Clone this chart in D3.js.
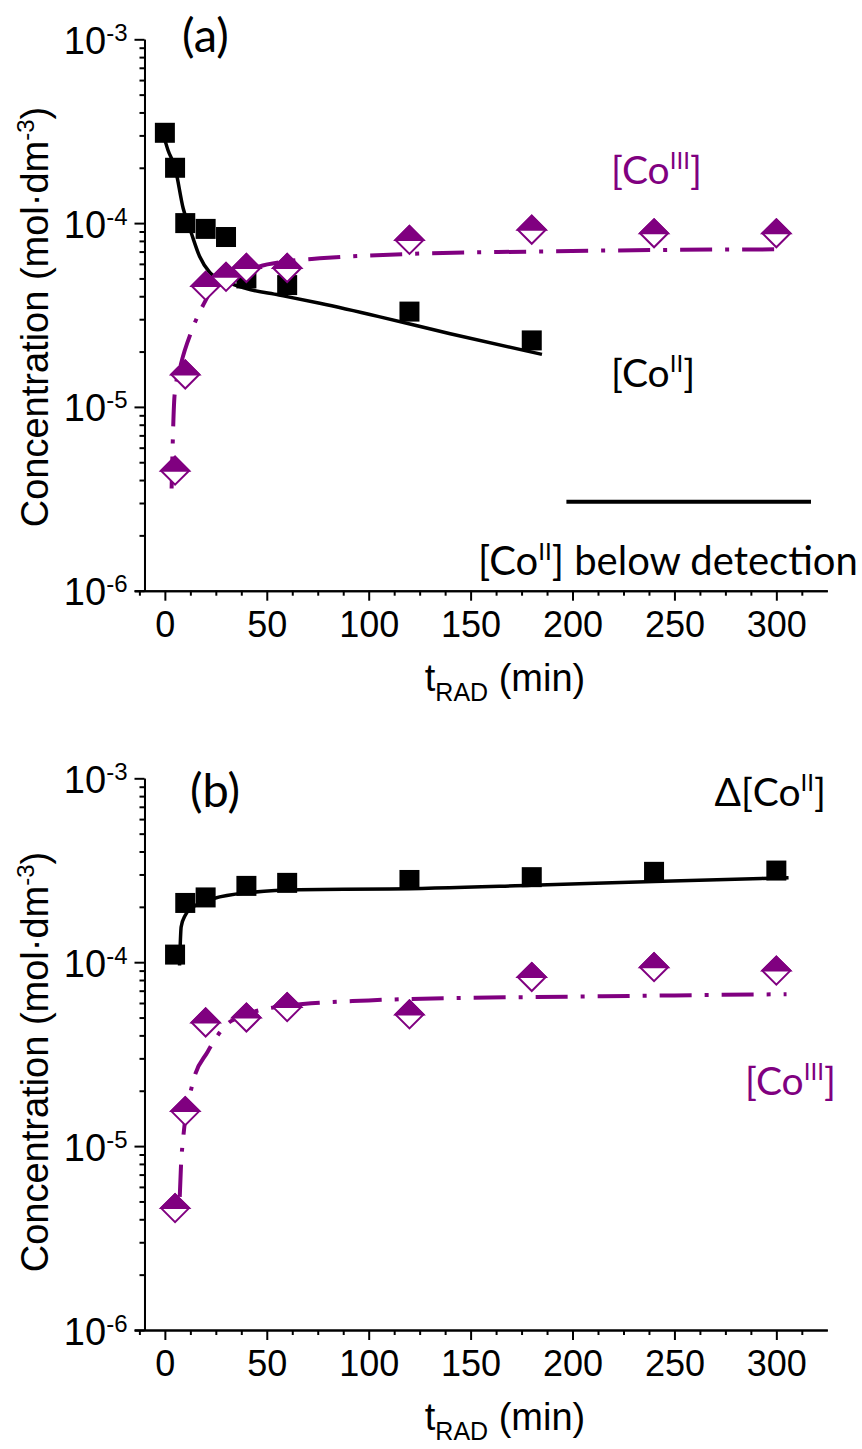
<!DOCTYPE html>
<html>
<head>
<meta charset="utf-8">
<script src="https://cdn.jsdelivr.net/npm/d3@7"></script>
<style>
  body { margin: 0; background: #fff; }
  svg { display: block; }
  .tick line, .domain { stroke: #000; stroke-width: 2; }
</style>
</head>
<body>
<script>
// ---- data ----
// panel (a)
var co2_t = [0, 5, 10, 20, 30, 40, 60, 120, 180];
var co2_c = [3.1e-4, 2.0e-4, 1.0e-4, 9.3e-5, 8.4e-5, 5.0e-5, 4.6e-5, 3.3e-5, 2.3e-5];
var co2_fit_t = [-1, 1.5, 5, 9, 13, 17, 22, 30, 40, 56, 76, 105, 140, 185];
var co2_fit_c = [3.1e-4, 2.5e-4, 2.0e-4, 1.2e-4, 8.8e-5, 6.6e-5, 5.4e-5, 4.8e-5, 4.4e-5, 4.06e-5, 3.66e-5, 3.1e-5, 2.5e-5, 1.93e-5];
var co3_t = [5, 10, 20, 30, 40, 60, 120, 180, 240, 300];
var co3_c = [4.5e-6, 1.5e-5, 4.55e-5, 5.1e-5, 5.7e-5, 5.7e-5, 8.1e-5, 9.2e-5, 8.8e-5, 8.8e-5];
var co3_fit_t = [3.3, 4.8, 8, 13, 20, 25, 37, 46, 60, 76, 120, 180, 250, 302];
var co3_fit_c = [3.6e-6, 1.17e-5, 1.73e-5, 2.57e-5, 3.8e-5, 4.7e-5, 5.3e-5, 5.8e-5, 6.2e-5, 6.43e-5, 6.8e-5, 7.0e-5, 7.15e-5, 7.2e-5];
var detect_t = [197, 317];
var detect_c = [3.05e-6, 3.05e-6];

// panel (b)
var dco2_t = [5, 10, 20, 40, 60, 120, 180, 240, 300];
var dco2_c = [1.1e-4, 2.1e-4, 2.25e-4, 2.6e-4, 2.7e-4, 2.8e-4, 2.9e-4, 3.1e-4, 3.15e-4];
var dco2_fit_t = [7.2, 8, 10, 14, 24, 43, 66, 110, 180, 240, 306];
var dco2_fit_c = [9.6e-5, 1.56e-4, 1.8e-4, 2.0e-4, 2.22e-4, 2.4e-4, 2.48e-4, 2.5e-4, 2.62e-4, 2.75e-4, 2.88e-4];
var co3b_t = [5, 10, 20, 40, 60, 120, 180, 240, 300];
var co3b_c = [4.6e-6, 1.55e-5, 4.7e-5, 5.0e-5, 5.7e-5, 5.2e-5, 8.3e-5, 9.4e-5, 9.0e-5];
var co3b_fit_t = [7.3, 8, 8.9, 13.8, 21, 30, 40, 60, 100, 150, 200, 250, 305];
var co3b_fit_c = [5.3e-6, 8.2e-6, 1.08e-5, 2.23e-5, 3.26e-5, 4.55e-5, 5.2e-5, 5.8e-5, 6.2e-5, 6.4e-5, 6.5e-5, 6.6e-5, 6.7e-5];

var x_ticks = [0, 50, 100, 150, 200, 250, 300];
var y_ticks = [1e-3, 1e-4, 1e-5, 1e-6];
var y_tick_exp = ['-3', '-4', '-5', '-6'];

var purple = '#800080';
var labelFont = 'Lato, "Open Sans", sans-serif';
var axisFont = '"Liberation Sans", Arial, sans-serif';

var svg = d3.select('body')
  .append('svg')
  .attr('width', 862)
  .attr('height', 1449);

function zip(ts, cs) {
  return ts.map(function(t, i) { return [t, cs[i]]; });
}

function sup_text(sel, before, sup, after, supSize, supDy)
{
  sel.append('tspan').text(before);
  sel.append('tspan').attr('font-size', supSize).attr('dy', supDy).text(sup);
  if (after !== undefined)
    sel.append('tspan').attr('font-size', '1em').attr('dy', -supDy).text(after);
}

function draw_panel(top, bottom, titleMid)
{
  var x = d3.scaleLinear().domain([-15, 325]).range([134.3, 827.3]);
  var y = d3.scaleLog().domain([1e-6, 1e-3]).range([bottom, top]);
  var g = svg.append('g');

  // x axis: minor ticks then major
  var minors = d3.range(-12.5, 325, 12.5).filter(function(v) { return v % 50 != 0; });
  g.append('g')
    .attr('transform', 'translate(0,' + bottom + ')')
    .call(d3.axisBottom(x).tickValues(minors).tickSize(5).tickSizeOuter(0).tickFormat(''));
  var xa = g.append('g')
    .attr('transform', 'translate(0,' + bottom + ')')
    .call(d3.axisBottom(x).tickValues(x_ticks).tickSize(10).tickSizeOuter(0));
  xa.selectAll('text')
    .attr('y', 46).attr('dy', 0)
    .attr('font-family', axisFont).attr('font-size', 36).attr('fill', '#000');

  // y axis
  var ymin = [];
  [-6, -5, -4].forEach(function(e) {
    for (var k = 2; k <= 9; k++) ymin.push(k * Math.pow(10, e));
  });
  var yx = x(-10);
  g.append('g')
    .attr('transform', 'translate(' + yx + ',0)')
    .call(d3.axisLeft(y).tickValues(ymin).tickSize(5).tickSizeOuter(0).tickFormat(''));
  var ya = g.append('g')
    .attr('transform', 'translate(' + yx + ',0)')
    .call(d3.axisLeft(y).tickValues(y_ticks).tickSize(10).tickSizeOuter(0).tickFormat(''));
  ya.selectAll('.tick text')
    .attr('x', -17).attr('dy', 0).attr('y', 14)
    .attr('font-family', axisFont).attr('font-size', 38).attr('fill', '#000')
    .each(function(d, i) {
      var t = d3.select(this);
      t.append('tspan').text('10');
      t.append('tspan').attr('font-size', 24).attr('dy', -13).text(y_tick_exp[i]);
    });

  // axis titles
  var yt = g.append('text')
    .attr('transform', 'translate(48,' + titleMid + ') rotate(-90)')
    .attr('text-anchor', 'middle')
    .attr('font-family', axisFont).attr('font-size', 38);
  sup_text(yt, 'Concentration (mol\u00b7dm', '-3', ')', 24, -14);

  var xt = g.append('text')
    .attr('x', 505).attr('y', bottom + 100)
    .attr('text-anchor', 'middle')
    .attr('font-family', axisFont).attr('font-size', 38);
  xt.append('tspan').text('t');
  xt.append('tspan').attr('font-size', 25).attr('dy', 10).text('RAD');
  xt.append('tspan').attr('dy', -10).text(' (min)');

  return {g: g, x: x, y: y};
}

function draw_fit(p, data, color, dash)
{
  var line = d3.line()
    .x(function(d) { return p.x(d[0]); })
    .y(function(d) { return p.y(d[1]); })
    .curve(d3.curveMonotoneX);
  p.g.append('path')
    .datum(data)
    .attr('d', line)
    .attr('fill', 'none')
    .attr('stroke', color)
    .attr('stroke-width', dash ? 4 : 3.5)
    .attr('stroke-dasharray', dash ? '32,13,4,13' : null);
}

function draw_squares(p, data)
{
  p.g.append('g')
    .selectAll('rect')
    .data(data)
    .join('rect')
    .attr('x', function(d) { return p.x(d[0]) - 10; })
    .attr('y', function(d) { return p.y(d[1]) - 10; })
    .attr('width', 20)
    .attr('height', 20)
    .attr('fill', '#000');
}

function draw_diamonds(p, data)
{
  var s = 14;
  var m = p.g.append('g')
    .selectAll('g')
    .data(data)
    .join('g')
    .attr('transform', function(d) { return 'translate(' + p.x(d[0]) + ',' + p.y(d[1]) + ')'; });
  m.append('path')
    .attr('d', 'M0,' + (-s) + 'L' + s + ',0L0,' + s + 'L' + (-s) + ',0Z')
    .attr('fill', '#fff')
    .attr('stroke', purple)
    .attr('stroke-width', 2);
  m.append('path')
    .attr('d', 'M' + (-s) + ',0L0,' + (-s) + 'L' + s + ',0Z')
    .attr('fill', purple)
    .attr('stroke', purple)
    .attr('stroke-width', 2);
}

function label(p, x, y, color, before, sup, after, size)
{
  var t = p.g.append('text')
    .attr('x', x).attr('y', y)
    .attr('fill', color)
    .attr('font-family', labelFont)
    .attr('font-size', size || 39);
  if (sup === undefined) t.text(before);
  else sup_text(t, before, sup, after, 24, -15);
  return t;
}

// ---- panel (a) ----
var pa = draw_panel(39.3, 590.7, 317);
draw_fit(pa, zip(co2_fit_t, co2_fit_c), '#000', false);
draw_fit(pa, zip(co3_fit_t, co3_fit_c), purple, true);
pa.g.append('line')
  .attr('x1', pa.x(detect_t[0])).attr('x2', pa.x(detect_t[1]))
  .attr('y1', pa.y(detect_c[0])).attr('y2', pa.y(detect_c[1]))
  .attr('stroke', '#000').attr('stroke-width', 4);
draw_squares(pa, zip(co2_t, co2_c));
draw_diamonds(pa, zip(co3_t, co3_c));
label(pa, 182, 52, '#000', '(a)', undefined, undefined, 47);
label(pa, 611, 184, purple, '[Co', 'III', ']');
label(pa, 611, 387, '#000', '[Co', 'II', ']');
label(pa, 478, 575, '#000', '[Co', 'II', '] below detection', 40);

// ---- panel (b) ----
var pb = draw_panel(778.3, 1330, 1062);
draw_fit(pb, zip(dco2_fit_t, dco2_fit_c), '#000', false);
draw_fit(pb, zip(co3b_fit_t, co3b_fit_c), purple, true);
draw_squares(pb, zip(dco2_t, dco2_c));
draw_diamonds(pb, zip(co3b_t, co3b_c));
label(pb, 190, 807, '#000', '(b)', undefined, undefined, 47);
label(pb, 826, 806, '#000', '\u0394[Co', 'II', ']').attr('text-anchor', 'end');
label(pb, 745, 1095, purple, '[Co', 'III', ']');
</script>
</body>
</html>
